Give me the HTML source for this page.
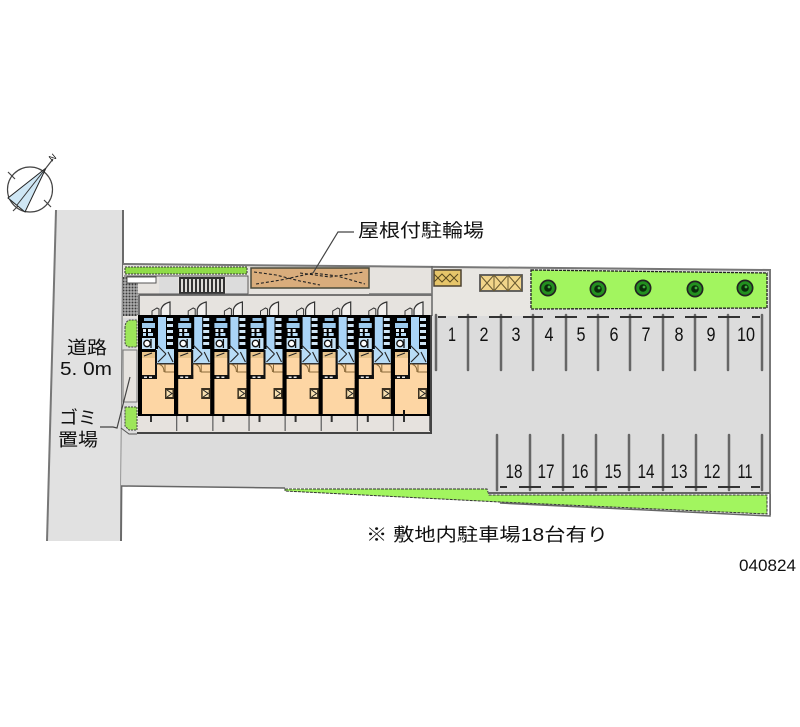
<!DOCTYPE html>
<html><head><meta charset="utf-8"><style>
html,body{margin:0;padding:0;background:#fff}
svg{display:block;filter:blur(0.35px)}
text{font-family:"Liberation Sans","Noto Sans CJK JP",sans-serif;fill:#111}
</style></head><body>
<svg width="800" height="727" viewBox="0 0 800 727" xmlns="http://www.w3.org/2000/svg">
<defs>
<g id="unit">
<rect x="138" y="315" width="40" height="101" fill="#000"/>
<!-- rooms -->
<rect x="142" y="379" width="32" height="35" fill="#fdd6a4"/>
<rect x="142" y="358" width="13" height="17" fill="#fdd6a4"/>
<rect x="157" y="364" width="17" height="16" fill="#fdd6a4"/>
<rect x="142" y="352" width="13" height="6" fill="#e8c48c"/>
<path d="M144 356l8-3" stroke="#222" stroke-width="1"/>
<!-- wet areas -->
<rect x="142" y="323" width="13" height="5" fill="#9cc9ec"/>
<rect x="144" y="318" width="9" height="3" fill="#8fbcdf"/>
<rect x="143" y="329" width="3" height="3" fill="#dfeefa"/><rect x="148" y="329" width="3" height="3" fill="#dfeefa"/><rect x="143" y="333" width="3" height="3" fill="#b8dcf6"/><rect x="148" y="333" width="5" height="3" fill="#b8dcf6"/>
<rect x="142" y="338" width="13" height="11" fill="#c4e2f7"/>
<circle cx="147" cy="343.500" r="3.200" fill="#fff" stroke="#111" stroke-width="1.300"/>
<path d="M151 339v9" stroke="#111" stroke-width="1.300"/>
<rect x="158" y="317" width="8" height="33" fill="#a9d4f7"/>
<rect x="156" y="349" width="18" height="14" fill="#b8dcf6"/>
<path d="M157 345l9 9M166 354l-8 8M168 352l5 10" stroke="#222" stroke-width="1.100" fill="none"/>
<rect x="167" y="318" width="6" height="3" fill="#cfe5f6"/><rect x="167" y="324" width="6" height="3" fill="#cfe5f6"/><rect x="167" y="330" width="6" height="3" fill="#cfe5f6"/><rect x="167" y="336" width="6" height="3" fill="#cfe5f6"/><rect x="167" y="342" width="6" height="3" fill="#cfe5f6"/>
<!-- door & partition -->
<rect x="155" y="350" width="2" height="29" fill="#111"/>
<rect x="156" y="363" width="18" height="1.500" fill="#333"/>
<path d="M158 364q6 1 6 8M165 364v8h9" stroke="#8a6a3a" stroke-width="1" fill="none"/>
<rect x="142" y="375" width="15" height="4" fill="#111"/>
<rect x="144" y="376.500" width="3" height="1.500" fill="#e8e8e8"/><rect x="149" y="376.500" width="3" height="1.500" fill="#e8e8e8"/>
<!-- furniture -->
<rect x="165" y="388" width="9" height="11" fill="#3a3020"/>
<rect x="166.500" y="390" width="6" height="7" fill="#f8e0b0"/>
<path d="M167 390l5 3.500-5 3.500" stroke="#222" fill="none" stroke-width="1"/>
<!-- balcony -->
<rect x="150" y="416" width="2" height="6" fill="#333"/>
<rect x="176" y="416" width="1.300" height="15" fill="#666"/>
<!-- doors -->
<path d="M152 315v-4l5-3 2 1v6" stroke="#333" fill="none" stroke-width="1"/>
<path d="M161 315v-5q1-6 9-8v13" stroke="#333" fill="#f2f0ee" stroke-width="1.200"/>
</g>
<g id="tree"><circle r="8.500" fill="#222"/><circle r="6.800" fill="#23901f"/><circle r="3.800" fill="#0a2a0a"/><circle cx="1" cy="-1" r="1.400" fill="#3fae3f"/></g>
</defs>

<!-- road -->
<polygon points="56,210 123,210 121,541 47,541" fill="#e1e1e1"/>
<path d="M56 210L47 541" stroke="#777" stroke-width="2" fill="none"/>
<path d="M123 210V264L121 541" stroke="#6a6a6a" stroke-width="2" fill="none"/>

<!-- compass -->
<g fill="none" stroke="#444" stroke-width="1.200">
<circle cx="30" cy="189.500" r="22.500"/>
<path d="M8 172l7 7M44 200l7 7M13 211l7-7"/>
<path d="M46 168l7-9"/>
</g>
<polygon points="46,168 8,198 25,212" fill="#cfe7f5" stroke="#222" stroke-width="1"/>
<path d="M46 168L17 205" stroke="#333" fill="none"/>
<text x="52" y="162" font-size="9" transform="rotate(-40 52 162)">N</text>

<!-- site ground -->
<polygon points="123,264 770,270 770,515 495,500 285,488 121,486" fill="#dcdcdc"/>
<polygon points="123,265 432,267 432,318 123,318" fill="#e6e3df"/>
<polygon points="432,267 530,268 530,316 432,316" fill="#e8e6e2"/>
<path d="M123 264L770 270V515" stroke="#777" stroke-width="2" fill="none"/>
<path d="M121 486L285 488" stroke="#666" stroke-width="1.500"/>

<!-- top-left hedge -->
<rect x="125" y="267" width="122" height="7" fill="#8fdc48" stroke="#333" stroke-width="1" stroke-dasharray="2 1"/>
<rect x="124" y="276" width="124" height="20" fill="#e6e3df"/>
<rect x="159" y="277" width="19" height="17" fill="#dcdcdc"/>
<rect x="226" y="277" width="21" height="17" fill="#dcdcdc"/>
<rect x="179" y="277" width="46" height="17" fill="#333"/>
<g fill="#dedcd8"><rect x="181" y="279" width="2" height="13"/><rect x="185" y="279" width="2" height="13"/><rect x="189" y="279" width="2" height="13"/><rect x="193" y="279" width="2" height="13"/><rect x="197" y="279" width="2" height="13"/><rect x="201" y="279" width="2" height="13"/><rect x="205" y="279" width="2" height="13"/><rect x="209" y="279" width="2" height="13"/><rect x="213" y="279" width="2" height="13"/><rect x="217" y="279" width="2" height="13"/><rect x="221" y="279" width="2" height="13"/></g>
<path d="M124 276H248V294M124 294H248" stroke="#555" fill="none"/>

<!-- mesh stairs -->
<rect x="123" y="277" width="15" height="39" fill="#3c3c3c"/>
<path d="M125 277v39M128 277v39M131 277v39M134 277v39M137 277v39M123 280h15M123 283h15M123 286h15M123 289h15M123 292h15M123 295h15M123 298h15M123 301h15M123 304h15M123 307h15M123 310h15M123 313h15" stroke="#c8c8c8" stroke-width="1"/>
<rect x="127" y="277" width="29" height="6" fill="#fff" stroke="#555"/>
<rect x="139" y="296" width="293" height="20" fill="#e6e3df"/>
<path d="M139 295H432M139 295V316" stroke="#666" stroke-width="1.800" fill="none"/>

<!-- bike shed -->
<rect x="251" y="268" width="118" height="20" fill="#d9ad7c" stroke="#4a4a3a" stroke-width="1.500"/>
<path d="M254 272l22 3 24 6 20 4M256 284l25-4 32-7 24 3 28 8M300 273l30 4 34-5" stroke="#222" stroke-width="1.100" stroke-dasharray="3 2" fill="none"/>
<path d="M313 273L338 232H354" stroke="#444" stroke-width="1.200" fill="none"/>
<text x="358" y="237" font-size="18.500" textLength="126" lengthAdjust="spacingAndGlyphs">屋根付駐輪場</text>

<!-- small pads -->
<path d="M432 266V316" stroke="#666" stroke-width="1.500"/>
<path d="M369 294H432" stroke="#777" stroke-width="1.500"/>
<rect x="434" y="270" width="27" height="16" fill="#e6c56a" stroke="#4a4030" stroke-width="1.500"/>
<path d="M434 274l4 4 4-4 4 4 4-4 4 4 4-4M434 282l4-4 4 4 4-4 4 4 4-4 4 4" stroke="#5a4a20" fill="none" stroke-width="1"/>
<rect x="480" y="275" width="42" height="16" fill="#f2d58a" stroke="#555" stroke-width="1.800"/>
<path d="M494 275v16M508 275v16M480 275l14 16M494 275l-14 16M494 275l14 16M508 275l-14 16M508 275l14 16M522 275l-14 16" stroke="#6a5a30" fill="none"/>

<!-- tree bed -->
<polygon points="531,270 767,273 767,308 531,309" fill="#a2f55f" stroke="#222" stroke-width="1.300" stroke-dasharray="3 1"/>
<use href="#tree" x="548" y="288"/><use href="#tree" x="598" y="289"/><use href="#tree" x="643" y="288"/><use href="#tree" x="695" y="289"/><use href="#tree" x="745" y="288"/>

<!-- building base + units -->
<rect x="137" y="315" width="295" height="118" fill="#e6e2de"/>
<use href="#unit"/>
<use href="#unit" x="36.200"/>
<use href="#unit" x="72.400"/>
<use href="#unit" x="108.500"/>
<use href="#unit" x="144.600"/>
<use href="#unit" x="180.700"/>
<use href="#unit" x="216.800"/>
<use href="#unit" x="253"/>
<rect x="427" y="315" width="4" height="101" fill="#000"/>
<path d="M431 315V433H137" stroke="#444" stroke-width="2" fill="none"/>
<rect x="403" y="410" width="2" height="6" fill="#111"/>

<!-- left greens -->
<path d="M125 328q0-7 5-8h7v27h-8q-4-1-4-5z" fill="#9de65a" stroke="#444" stroke-dasharray="2 1"/>
<rect x="123" y="350" width="14" height="52" fill="#e6e3df" stroke="#777"/>
<path d="M125 407h12v23h-8l-4-4z" fill="#9de65a" stroke="#444" stroke-dasharray="2 1"/>
<path d="M121 428L129 434H137" stroke="#555" fill="none"/>
<path d="M130 377L117 428L113 427H100" stroke="#444" stroke-width="1.200" fill="none"/>

<!-- parking lines top -->
<path d="M436 315V370M468 315V370M501 315V370M533 315V370M566 315V370M598 315V370M630 315V370M663 315V370M695 315V370M728 315V370M762 315V370" stroke="#666" stroke-width="2.500" stroke-linecap="round" fill="none"/>
<path d="M438 317h8M458 317h19M489 317h23M523 317h20M555 317h22M587 317h22M620 317h22M653 317h21M685 317h22M718 317h22M752 317h8" stroke="#333" stroke-width="2" fill="none"/>
<g font-size="19" text-anchor="middle">
<text x="452" y="341" textLength="8" lengthAdjust="spacingAndGlyphs">1</text><text x="484" y="341" textLength="9" lengthAdjust="spacingAndGlyphs">2</text><text x="516" y="341" textLength="9" lengthAdjust="spacingAndGlyphs">3</text><text x="549" y="341" textLength="9" lengthAdjust="spacingAndGlyphs">4</text><text x="581" y="341" textLength="9" lengthAdjust="spacingAndGlyphs">5</text><text x="614" y="341" textLength="9" lengthAdjust="spacingAndGlyphs">6</text><text x="646" y="341" textLength="9" lengthAdjust="spacingAndGlyphs">7</text><text x="679" y="341" textLength="9" lengthAdjust="spacingAndGlyphs">8</text><text x="711" y="341" textLength="9" lengthAdjust="spacingAndGlyphs">9</text><text x="746" y="341" textLength="18" lengthAdjust="spacingAndGlyphs">10</text>
</g>

<!-- bottom hedge -->
<polygon points="770,494 770,515 495,500 284,488 488,490 489,494" fill="#fff"/>
<polygon points="285,489 487,489 489,495 767,495 767,514 500,502 285,491" fill="#a2f55f" stroke="#333" stroke-width="1" stroke-dasharray="3 1"/>
<path d="M500 503L770 516V494" stroke="#666" stroke-width="1.500" fill="none"/>

<!-- parking lines bottom -->
<path d="M497 435V490M530 435V490M563 435V490M596 435V490M629 435V490M663 435V490M696 435V490M729 435V490M762 435V490" stroke="#666" stroke-width="2.500" stroke-linecap="round" fill="none"/>
<path d="M489 493H770" stroke="#666" stroke-width="2"/>
<path d="M500 487h7M519 487h22M552 487h22M585 487h22M618 487h22M652 487h21M685 487h22M718 487h22M751 487h9" stroke="#333" stroke-width="2" fill="none"/>
<g font-size="19" text-anchor="middle">
<text x="514" y="478" textLength="17" lengthAdjust="spacingAndGlyphs">18</text><text x="546" y="478" textLength="17" lengthAdjust="spacingAndGlyphs">17</text><text x="580" y="478" textLength="17" lengthAdjust="spacingAndGlyphs">16</text><text x="613" y="478" textLength="17" lengthAdjust="spacingAndGlyphs">15</text><text x="646" y="478" textLength="17" lengthAdjust="spacingAndGlyphs">14</text><text x="679" y="478" textLength="17" lengthAdjust="spacingAndGlyphs">13</text><text x="712" y="478" textLength="17" lengthAdjust="spacingAndGlyphs">12</text><text x="745" y="478" textLength="15" lengthAdjust="spacingAndGlyphs">11</text>
</g>

<!-- labels -->
<g font-size="18">
<text x="67" y="354" textLength="40" lengthAdjust="spacingAndGlyphs">道路</text>
<text x="60" y="375" textLength="52" lengthAdjust="spacingAndGlyphs">5. 0m</text>
<text x="59" y="424" textLength="38" lengthAdjust="spacingAndGlyphs">ゴミ</text>
<text x="58" y="446" textLength="40" lengthAdjust="spacingAndGlyphs">置場</text>
</g>
<text x="366" y="541" font-size="18" textLength="242" lengthAdjust="spacingAndGlyphs">※ 敷地内駐車場18台有り</text>
<text x="739" y="571" font-size="17" textLength="57" lengthAdjust="spacingAndGlyphs">040824</text>
</svg>
</body></html>
